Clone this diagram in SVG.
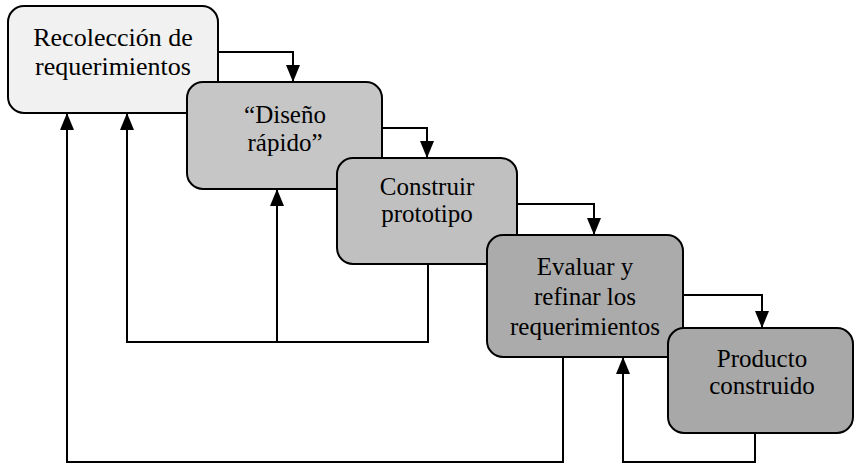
<svg xmlns="http://www.w3.org/2000/svg" width="857" height="465" viewBox="0 0 857 465">
  <defs>
    <marker id="arrow" viewBox="0 0 17 14" refX="17" refY="7" markerWidth="17" markerHeight="14" markerUnits="userSpaceOnUse" orient="auto">
      <path d="M0,0 L17,7 L0,14 Z" fill="#000"/>
    </marker>
    <style>
      .box { stroke: #000; stroke-width: 2; }
      .label { font-family: "Liberation Serif", "Times New Roman", serif; font-size: 25px; fill: #000; text-anchor: middle; }
      .big { font-size: 26px; }
      .link { fill: none; stroke: #000; stroke-width: 2; }
    </style>
  </defs>
  <rect width="857" height="465" fill="#fff"/>

  <!-- connectors -->
  <g id="connectors">
    <!-- forward steps -->
    <path class="link" d="M218,52 H293 V82" marker-end="url(#arrow)"/>
    <path class="link" d="M382,128 H427 V158" marker-end="url(#arrow)"/>
    <path class="link" d="M517,204 H594 V235" marker-end="url(#arrow)"/>
    <path class="link" d="M683,295 H762 V328" marker-end="url(#arrow)"/>
    <!-- feedback from prototype -->
    <path class="link" d="M428,264 V342 H127 V113" marker-end="url(#arrow)"/>
    <path class="link" d="M277,342 V189" marker-end="url(#arrow)"/>
    <!-- feedback from evaluation -->
    <path class="link" d="M563,357 V462 H67 V113" marker-end="url(#arrow)"/>
    <!-- feedback from product -->
    <path class="link" d="M755,433 V462 H623 V357" marker-end="url(#arrow)"/>
  </g>

  <g id="recoleccion">
    <rect class="box" x="8" y="6" width="210" height="107" rx="16" fill="#f1f1f1"/>
    <text class="label big" x="113" y="46">Recolección de</text>
    <text class="label big" x="113" y="75">requerimientos</text>
  </g>

  <g id="diseno">
    <rect class="box" x="187" y="82" width="195" height="107" rx="16" fill="#c6c6c6"/>
    <text class="label" x="285" y="123">“Diseño</text>
    <text class="label" x="285" y="151">rápido”</text>
  </g>

  <g id="construir">
    <rect class="box" x="337" y="158" width="180" height="106" rx="16" fill="#c0c0c0"/>
    <text class="label" x="427" y="195">Construir</text>
    <text class="label" x="427" y="222">prototipo</text>
  </g>

  <g id="evaluar">
    <rect class="box" x="487" y="235" width="196" height="122" rx="16" fill="#ababab"/>
    <text class="label" x="585" y="275">Evaluar y</text>
    <text class="label" x="585" y="305">refinar los</text>
    <text class="label" x="585" y="335">requerimientos</text>
  </g>

  <g id="producto">
    <rect class="box" x="668" y="328" width="185" height="105" rx="16" fill="#a8a8a8"/>
    <text class="label" x="762" y="367">Producto</text>
    <text class="label" x="762" y="394">construido</text>
  </g>
</svg>
